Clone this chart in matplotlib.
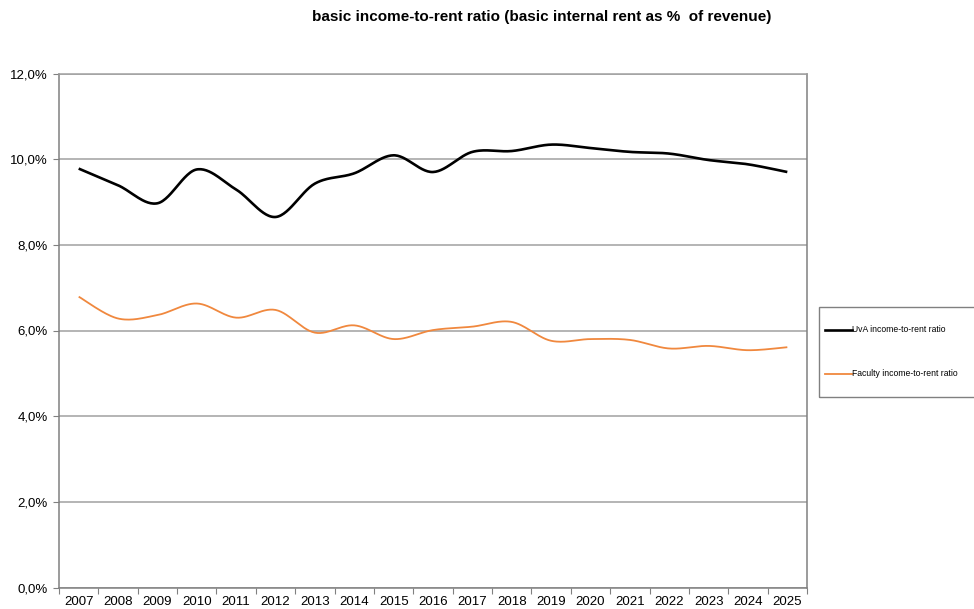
import numpy as np
import matplotlib
matplotlib.use("Agg")
from matplotlib import pyplot as plt
from matplotlib.patches import Rectangle
from matplotlib.lines import Line2D
from matplotlib.ticker import FuncFormatter, MultipleLocator

plt.rcParams["font.family"] = ["Liberation Sans", "DejaVu Sans"]

# Yearly ratios (%)
years = [str(y) for y in range(2007, 2026)]
uva_ratio = [9.78, 9.39, 8.97, 9.76, 9.29, 8.65, 9.43, 9.67, 10.09, 9.70,
             10.17, 10.19, 10.34, 10.26, 10.17, 10.13, 9.98, 9.88, 9.70]
faculty_ratio = [6.79, 6.28, 6.36, 6.63, 6.30, 6.48, 5.95, 6.12, 5.80, 6.01,
                 6.09, 6.20, 5.76, 5.80, 5.78, 5.58, 5.64, 5.54, 5.61]

title = "basic income-to-rent ratio (basic internal rent as %  of revenue)"
uva_label = "UvA income-to-rent ratio"
faculty_label = "Faculty income-to-rent ratio"


def smooth(x, y, n=30):
    # Catmull-Rom style smoothing like spreadsheet "smoothed line"
    x = np.asarray(x, float)
    y = np.asarray(y, float)
    px = np.concatenate([[x[0]], x, [x[-1]]])
    py = np.concatenate([[y[0]], y, [y[-1]]])
    xs, ys = [], []
    t = np.linspace(0, 1, n)
    for i in range(1, len(px) - 2):
        p0 = np.array([px[i], py[i]])
        p3 = np.array([px[i + 1], py[i + 1]])
        c1 = p0 + (np.array([px[i + 1], py[i + 1]]) - np.array([px[i - 1], py[i - 1]])) / 6
        c2 = p3 - (np.array([px[i + 2], py[i + 2]]) - np.array([px[i], py[i]])) / 6
        b = ((1 - t) ** 3)[:, None] * p0 + (3 * (1 - t) ** 2 * t)[:, None] * c1 \
            + (3 * (1 - t) * t ** 2)[:, None] * c2 + (t ** 3)[:, None] * p3
        xs.extend(b[:, 0])
        ys.extend(b[:, 1])
    return np.array(xs), np.array(ys)


fig = plt.figure(figsize=(9.74, 6.09), dpi=100)
ax = fig.add_axes([59 / 974, (609 - 587.5) / 609, 748 / 974, 514 / 609])

x = np.arange(len(years))
uva_color = "black"
fac_color = "#F0883E"

sx, sy = smooth(x, uva_ratio)
ax.plot(sx, sy, color=uva_color, lw=1.9, solid_capstyle="butt", zorder=3)
sx, sy = smooth(x, faculty_ratio)
ax.plot(sx, sy, color=fac_color, lw=1.3, solid_capstyle="butt", zorder=3)

ax.set_xlim(-0.5, len(years) - 0.5)
ax.set_ylim(0, 12)
ax.yaxis.set_major_locator(MultipleLocator(2))
ax.yaxis.set_major_formatter(FuncFormatter(lambda v, p: f"{v:.1f}%".replace(".", ",")))
ax.grid(axis="y", color="#a0a0a0", lw=1.1)
ax.set_axisbelow(True)

# categories sit between the tick marks
ax.set_xticks(np.arange(-0.5, len(years), 1))
ax.set_xticklabels([])
ax.set_xticks(x, minor=True)
ax.set_xticklabels(years, minor=True)
ax.tick_params(axis="x", which="minor", length=0, pad=6, labelsize=9.5)
ax.tick_params(axis="x", which="major", length=4, color="#808080")
ax.tick_params(axis="y", length=4, color="#808080", labelsize=9.5, pad=4)
for s in ax.spines.values():
    s.set_color("#808080")
    s.set_linewidth(1.1)
ax.spines["top"].set_color("#a0a0a0")

fig.text(542 / 974, 1 - 17 / 609, title, ha="center", va="center",
         fontsize=11, fontweight="bold")

# legend box, running off the right edge
fig.patches.append(Rectangle((819 / 974, 1 - 397 / 609), 170 / 974, 90 / 609,
                             transform=fig.transFigure, fill=False,
                             edgecolor="#808080", lw=1.0))
for yy, col, lw, lab in [(330, uva_color, 1.9, uva_label),
                         (374, fac_color, 1.3, faculty_label)]:
    fig.lines.append(Line2D([825 / 974, 852 / 974], [1 - yy / 609] * 2,
                            transform=fig.transFigure, color=col, lw=lw))
    fig.text(852 / 974, 1 - yy / 609, lab, ha="left", va="center", fontsize=6.2)

fig.savefig("out.png", dpi=100)
